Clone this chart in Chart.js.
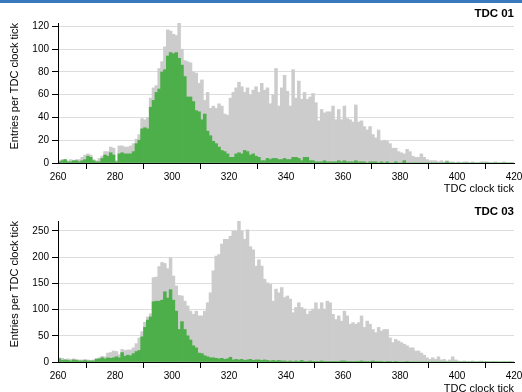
<!DOCTYPE html>
<html lang="en">
<head>
  <meta charset="UTF-8">
  <title>TDC clock tick histograms</title>
  <style>
    body {
      margin: 0;
      padding: 0;
      background: #fff;
    }
    #page {
      position: relative;
      width: 522px;
      height: 392px;
      overflow: hidden;
      background: #fff;
    }
    .topbar {
      position: absolute;
      left: 0;
      top: 0;
      width: 522px;
      height: 3px;
      background: #3a78bd;
      z-index: 2;
    }
    canvas {
      position: absolute;
      left: 0;
      display: block;
    }
    #tdc01 { top: 0; }
    #tdc03 { top: 196px; }
  </style>
  <script src="https://cdn.jsdelivr.net/npm/chart.js"></script>
</head>
<body>
<div id="page">
  <div class="topbar"></div>
  <canvas id="tdc01" width="522" height="196"></canvas>
  <canvas id="tdc03" width="522" height="210"></canvas>
</div>

<script>
  // one bin per TDC clock tick, first bin starts at 260
  const firstBin = 260;
  const xTicks = [260, 280, 300, 320, 340, 360, 380, 400, 420];
  const yTicks01 = [0, 20, 40, 60, 80, 100, 120];
  const yTicks03 = [0, 50, 100, 150, 200, 250];

  // TDC 01 - all hits (grey) and selected hits (green), bins 260..419
  const tdc01All = [
    2, 3, 3, 2, 3, 2, 3, 3, 5, 7,
    8, 7, 3, 2, 4, 6, 10, 10, 14, 13,
    2, 15, 15, 14, 14, 15, 17, 21, 25, 39,
    38, 40, 57, 66, 68, 83, 89, 102, 117, 116,
    113, 112, 123, 100, 90, 89, 88, 80, 79, 70,
    73, 55, 62, 48, 50, 48, 52, 50, 43, 42,
    57, 62, 66, 71, 67, 62, 66, 60, 64, 67,
    62, 70, 64, 66, 52, 60, 83, 50, 66, 77,
    63, 50, 82, 57, 72, 56, 62, 56, 58, 61,
    53, 37, 47, 44, 45, 45, 50, 38, 47, 38,
    50, 39, 38, 36, 51, 36, 37, 32, 29, 32,
    25, 22, 29, 19, 20, 19, 17, 13, 13, 10,
    9, 8, 12, 10, 6, 5, 5, 8, 5, 3,
    2, 2, 2, 1, 2, 1, 2, 1, 1, 0,
    1, 0, 1, 1, 0, 1, 0, 0, 1, 1,
    1, 0, 0, 1, 0, 0, 1, 0, 0, 0
  ];
  const tdc01Sel = [
    1, 2, 3, 1, 1, 2, 2, 1, 2, 3,
    6, 5, 2, 1, 1, 4, 7, 6, 9, 7,
    1, 8, 9, 8, 8, 8, 10, 17, 20, 30,
    31, 30, 49, 55, 62, 65, 80, 82, 94, 97,
    96, 97, 92, 86, 76, 58, 58, 54, 46, 45,
    38, 43, 28, 24, 19, 17, 14, 11, 10, 8,
    5, 5, 8, 9, 8, 11, 10, 7, 8, 6,
    5, 2, 2, 4, 3, 4, 4, 3, 3, 4,
    3, 3, 5, 5, 4, 2, 5, 5, 2, 2,
    1, 1, 1, 2, 1, 1, 1, 1, 2, 1,
    2, 1, 1, 1, 2, 1, 1, 1, 0, 1,
    1, 1, 0, 1, 0, 1, 0, 0, 1, 0,
    0, 2, 0, 0, 0, 0, 0, 0, 0, 0,
    0, 0, 0, 0, 0, 0, 1, 0, 0, 0,
    0, 0, 0, 0, 0, 0, 0, 0, 0, 0,
    0, 0, 0, 0, 0, 0, 0, 0, 0, 0
  ];

  // TDC 03
  const tdc03All = [
    8, 7, 5, 6, 5, 6, 5, 4, 4, 5,
    4, 3, 4, 7, 8, 11, 10, 17, 18, 21,
    20, 14, 24, 22, 23, 23, 27, 35, 46, 58,
    76, 86, 92, 161, 162, 182, 190, 188, 178, 199,
    164, 145, 127, 126, 116, 107, 97, 91, 97, 88,
    88, 97, 113, 132, 174, 202, 205, 225, 234, 234,
    240, 250, 250, 269, 250, 234, 252, 220, 214, 183,
    195, 183, 158, 151, 148, 116, 139, 132, 142, 123,
    126, 120, 94, 104, 113, 104, 101, 91, 97, 101,
    113, 101, 113, 101, 116, 113, 91, 81, 88, 78,
    97, 88, 72, 75, 72, 75, 88, 66, 78, 72,
    62, 56, 66, 59, 62, 62, 46, 37, 43, 40,
    37, 34, 31, 27, 27, 21, 21, 17, 13, 8,
    5, 8, 5, 10, 4, 5, 2, 4, 10, 4,
    2, 1, 2, 1, 1, 2, 0, 1, 2, 1,
    1, 0, 1, 1, 0, 0, 1, 0, 1, 0
  ];
  const tdc03Sel = [
    6, 3, 4, 3, 2, 4, 3, 2, 2, 3,
    2, 2, 2, 5, 6, 8, 6, 8, 7, 8,
    10, 8, 18, 11, 13, 12, 16, 20, 22, 48,
    66, 80, 86, 115, 116, 116, 118, 134, 122, 138,
    118, 97, 62, 77, 62, 50, 42, 31, 27, 17,
    16, 12, 10, 8, 8, 7, 6, 7, 5, 6,
    9, 4, 5, 4, 5, 3, 4, 5, 3, 4,
    4, 3, 4, 3, 2, 3, 2, 3, 2, 2,
    1, 2, 1, 2, 1, 3, 1, 1, 2, 1,
    1, 1, 2, 1, 1, 1, 1, 1, 1, 2,
    2, 1, 1, 1, 1, 1, 2, 1, 1, 1,
    2, 1, 1, 1, 0, 1, 1, 0, 1, 0,
    0, 0, 1, 0, 0, 0, 0, 0, 0, 0,
    0, 0, 0, 0, 0, 0, 0, 0, 0, 0,
    0, 0, 0, 0, 0, 0, 0, 0, 0, 0,
    0, 0, 0, 0, 0, 0, 0, 0, 0, 0
  ];

  const grey = '#cccccc';
  const green = '#4daf4a';

  Chart.defaults.font.family = "'Liberation Sans', Arial, Helvetica, sans-serif";
  Chart.defaults.color = '#000';

  function toPoints(counts) {
    // bar centred in the middle of its clock tick
    return counts.map((v, i) => ({ x: firstBin + i + 0.5, y: v }));
  }

  function histogram(id, title, allCounts, selCounts, yTicks, box) {
    const bars = { grouped: false, barPercentage: 1, categoryPercentage: 1, borderWidth: 0 };
    return new Chart(document.getElementById(id), {
      type: 'bar',
      data: {
        datasets: [
          Object.assign({ label: 'selected', data: toPoints(selCounts), backgroundColor: green, order: 0 }, bars),
          Object.assign({ label: 'all', data: toPoints(allCounts), backgroundColor: grey, order: 1 }, bars)
        ]
      },
      options: {
        responsive: false,
        animation: false,
        events: [],
        layout: { padding: { left: 0, right: 8, top: 0, bottom: 0 } },
        plugins: {
          legend: { display: false },
          tooltip: { enabled: false },
          title: {
            display: true,
            text: title,
            align: 'end',
            color: '#000',
            font: { size: 11.5, weight: 'bold' },
            padding: { top: box.titleTop, bottom: 2.2 }
          }
        },
        scales: {
          x: {
            type: 'linear',
            min: xTicks[0],
            max: xTicks[xTicks.length - 1],
            offset: false,
            afterBuildTicks: s => { s.ticks = xTicks.map(v => ({ value: v })); },
            afterFit: s => { s.height = box.xHeight; s.paddingLeft = 0; s.paddingRight = 0; },
            grid: { drawOnChartArea: false, tickLength: 6, tickColor: '#000' },
            border: { color: '#000', z: 1 },
            ticks: { padding: 2, maxRotation: 0, autoSkip: false, font: { size: 10 } },
            title: {
              display: true,
              text: 'TDC clock tick',
              align: 'end',
              font: { size: 11 },
              padding: { top: 0, bottom: box.xTitleBottom }
            }
          },
          y: {
            min: 0,
            max: Math.max(...allCounts),
            afterBuildTicks: s => { s.ticks = yTicks.map(v => ({ value: v })); },
            afterFit: s => { s.width = 58; s.paddingTop = 0; s.paddingBottom = 0; },
            grid: { color: '#dddddd', tickColor: '#000', tickLength: 6 },
            border: { color: '#000', z: 1 },
            ticks: { padding: 3, font: { size: 10 } },
            title: {
              display: true,
              text: 'Entries per TDC clock tick',
              align: 'end',
              font: { size: 11 },
              padding: { top: 8, bottom: 0 }
            }
          }
        }
      }
    });
  }

  histogram('tdc01', 'TDC 01', tdc01All, tdc01Sel, yTicks01, { titleTop: 7, xHeight: 33, xTitleBottom: 0 });
  histogram('tdc03', 'TDC 03', tdc03All, tdc03Sel, yTicks03, { titleTop: 9, xHeight: 44, xTitleBottom: 10.4 });
</script>
</body>
</html>
